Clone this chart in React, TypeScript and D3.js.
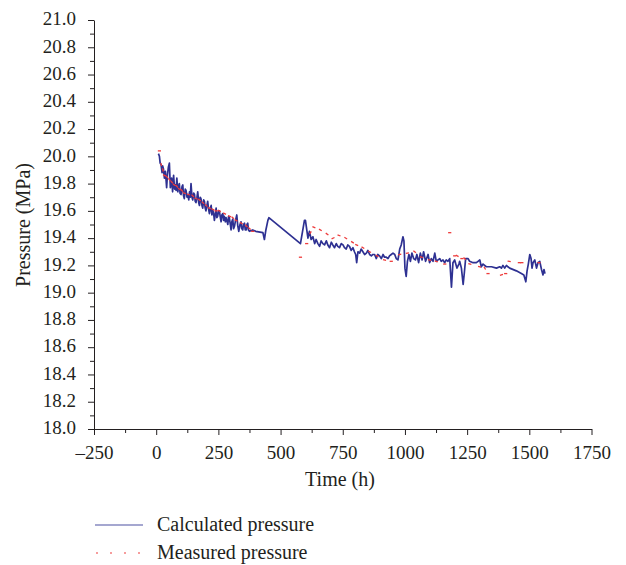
import React, { useEffect, useRef } from "react";
import * as d3 from "d3";

// pressure history
const timeDomain = [-250, 1750];
const pressureDomain = [18, 21];
const xTickValues = [-250, 0, 250, 500, 750, 1000, 1250, 1500, 1750];
const yTickValues = [18.0, 18.2, 18.4, 18.6, 18.8, 19.0, 19.2, 19.4, 19.6, 19.8, 20.0, 20.2, 20.4, 20.6, 20.8, 21.0];
const seriesNames = ["Calculated pressure", "Measured pressure"];

// [time h, pressure MPa]
const calculated: [number, number][] = [
  [9, 20.02], [13, 20.0], [16, 19.95], [19.5, 19.94], [23.6, 19.88], [26, 19.93], [29, 19.91], [33, 19.84], [37, 19.89],
  [40, 19.82], [42, 19.77], [45, 19.86], [49, 19.92], [53, 19.95], [57, 19.77], [60, 19.82], [62, 19.84], [66, 19.74],
  [70, 19.86], [74, 19.76], [77, 19.79], [80, 19.75], [83, 19.84], [87, 19.74], [90, 19.78], [93, 19.8], [96, 19.73],
  [100, 19.72], [104, 19.78], [107, 19.79], [110, 19.71], [113, 19.69], [117, 19.76], [120, 19.75], [124, 19.7],
  [127, 19.72], [131, 19.68], [134, 19.74], [137, 19.7], [140, 19.8], [144, 19.7], [147, 19.68], [151, 19.73],
  [154, 19.72], [157, 19.67], [160, 19.66], [164, 19.7], [167, 19.74], [171, 19.66], [174, 19.64], [177, 19.7],
  [180, 19.69], [184, 19.64], [187, 19.62], [191, 19.68], [194, 19.67], [197, 19.62], [200, 19.6], [204, 19.64],
  [207, 19.67], [211, 19.61], [214, 19.58], [218, 19.62], [221, 19.64], [224, 19.57], [227, 19.61], [231, 19.58],
  [234, 19.53], [238, 19.58], [241, 19.62], [244, 19.55], [247, 19.56], [251, 19.6], [254, 19.6], [258, 19.55],
  [261, 19.52], [264, 19.57], [268, 19.58], [271, 19.53], [274, 19.56], [278, 19.52], [281, 19.55], [284, 19.53],
  [288, 19.5], [291, 19.56], [294, 19.55], [298, 19.5], [301, 19.46], [304, 19.52], [308, 19.54], [311, 19.47],
  [315, 19.49], [319, 19.53], [324, 19.57], [328, 19.49], [332, 19.45], [337, 19.5], [341, 19.52], [344, 19.47],
  [348, 19.46], [351, 19.5], [355, 19.51], [358, 19.46], [362, 19.46], [365, 19.5], [368, 19.51], [371, 19.46],
  [375, 19.45], [388, 19.46], [400, 19.45], [429, 19.44], [435, 19.39], [441, 19.46], [449, 19.53], [453, 19.55],
  [580, 19.36], [596, 19.53], [600, 19.53], [610, 19.4], [616, 19.45], [623, 19.39], [630, 19.41], [637, 19.36],
  [643, 19.39], [650, 19.36], [657, 19.34], [663, 19.38], [670, 19.36], [677, 19.35], [684, 19.38], [690, 19.35],
  [697, 19.33], [704, 19.37], [710, 19.35], [717, 19.33], [724, 19.36], [730, 19.34], [737, 19.33], [744, 19.36],
  [751, 19.35], [757, 19.33], [764, 19.32], [770, 19.35], [777, 19.34], [784, 19.31], [791, 19.33], [797, 19.3],
  [802, 19.28], [806, 19.22], [811, 19.3], [818, 19.29], [824, 19.32], [831, 19.3], [838, 19.28], [845, 19.29],
  [851, 19.31], [858, 19.28], [865, 19.27], [871, 19.28], [878, 19.28], [885, 19.25], [891, 19.28], [898, 19.27],
  [905, 19.25], [912, 19.28], [918, 19.26], [925, 19.26], [932, 19.25], [938, 19.27], [945, 19.28], [952, 19.29],
  [959, 19.28], [965, 19.25], [972, 19.24], [979, 19.32], [985, 19.35], [992, 19.41], [996, 19.38], [1000, 19.18],
  [1005, 19.12], [1010, 19.23], [1016, 19.28], [1022, 19.23], [1028, 19.29], [1035, 19.25], [1042, 19.24], [1048, 19.28],
  [1055, 19.22], [1062, 19.29], [1069, 19.24], [1075, 19.3], [1083, 19.23], [1093, 19.28], [1099, 19.22], [1106, 19.25],
  [1113, 19.23], [1120, 19.29], [1126, 19.23], [1133, 19.24], [1140, 19.25], [1146, 19.23], [1153, 19.24], [1160, 19.22],
  [1166, 19.24], [1173, 19.23], [1180, 19.25], [1187, 19.04], [1193, 19.22], [1200, 19.24], [1209, 19.18], [1217, 19.21],
  [1220, 19.23], [1227, 19.18], [1234, 19.06], [1239, 19.15], [1244, 19.25], [1254, 19.25], [1260, 19.23], [1274, 19.22],
  [1287, 19.22], [1294, 19.23], [1301, 19.24], [1307, 19.19], [1314, 19.21], [1327, 19.19], [1348, 19.19], [1368, 19.18],
  [1381, 19.19], [1388, 19.18], [1394, 19.2], [1401, 19.18], [1408, 19.2], [1414, 19.19], [1421, 19.18], [1448, 19.16],
  [1468, 19.14], [1478, 19.13], [1486, 19.08], [1491, 19.16], [1496, 19.21], [1502, 19.28], [1507, 19.25], [1511, 19.18],
  [1515, 19.22], [1522, 19.24], [1529, 19.18], [1535, 19.22], [1542, 19.23], [1549, 19.17], [1555, 19.13], [1559, 19.17],
  [1563, 19.14],
];

const measured: [number, number][] = [
  [13, 20.04], [20, 19.94], [27, 19.9], [33, 19.86], [43, 19.85], [53, 19.83], [63, 19.81], [73, 19.79],
  [83, 19.78], [93, 19.76], [103, 19.75], [113, 19.73], [130, 19.72], [147, 19.71], [160, 19.69], [174, 19.68],
  [188, 19.66], [201, 19.64], [214, 19.62], [228, 19.61], [241, 19.6], [254, 19.6], [275, 19.58], [295, 19.56],
  [308, 19.55], [321, 19.53], [342, 19.51], [362, 19.49], [375, 19.47], [388, 19.45],
  [580, 19.26], [605, 19.36], [620, 19.44], [634, 19.48], [660, 19.46], [687, 19.43], [711, 19.4], [735, 19.42],
  [762, 19.4], [789, 19.37], [806, 19.35], [831, 19.33], [858, 19.3], [888, 19.27], [918, 19.24], [945, 19.23],
  [979, 19.28], [1010, 19.29], [1039, 19.3], [1066, 19.26], [1099, 19.24], [1126, 19.23], [1160, 19.21], [1180, 19.44],
  [1200, 19.27], [1210, 19.27], [1229, 19.25], [1240, 19.25], [1261, 19.21], [1300, 19.19], [1321, 19.18], [1334, 19.14],
  [1388, 19.13], [1405, 19.14], [1419, 19.23], [1460, 19.22], [1470, 19.22], [1539, 19.22],
];

const width = 626;
const height = 565;
const font = "'Liberation Serif', 'Times New Roman', serif";
const ink = "#231f20";
const blue = "#2e3192";
const red = "#ee3b3b";

export default function App() {
  const ref = useRef<SVGSVGElement>(null);

  useEffect(() => {
    const svg = d3.select(ref.current);
    svg.selectAll("*").remove();

    const x = d3.scaleLinear().domain(timeDomain).range([94, 591.5]);
    const y = d3.scaleLinear().domain(pressureDomain).range([429, 20]);

    // minor ticks
    const xMinor = d3.range(-125, 1750, 250);
    const yMinor = d3.range(18.1, 21, 0.2);

    svg.append("g").attr("transform", "translate(0,429)")
      .call(d3.axisBottom(x).tickValues(xMinor).tickSize(4).tickSizeOuter(0).tickFormat(() => ""))
      .call(g => g.select(".domain").remove());
    svg.append("g").attr("transform", "translate(94,0)")
      .call(d3.axisLeft(y).tickValues(yMinor).tickSize(4).tickSizeOuter(0).tickFormat(() => ""))
      .call(g => g.select(".domain").remove());

    svg.append("g").attr("transform", "translate(0,429)")
      .call(d3.axisBottom(x).tickValues(xTickValues).tickSize(6).tickSizeOuter(0).tickPadding(11)
        .tickFormat(d => (+d < 0 ? "\u2013" + Math.abs(+d) : String(d))));
    const yAxis = svg.append("g").attr("transform", "translate(94,0)")
      .call(d3.axisLeft(y).tickValues(yTickValues).tickSize(6).tickSizeOuter(0).tickPadding(12)
        .tickFormat(d3.format(".1f")));
    yAxis.selectAll("text").attr("dy", "0.25em");

    svg.selectAll(".tick line, .domain").attr("stroke", ink);
    svg.selectAll(".tick text").attr("fill", ink).style("font-family", font).style("font-size", "19px");

    // calculated line
    const line = d3.line<[number, number]>().x(d => x(d[0])).y(d => y(d[1]));
    svg.append("path").datum(calculated)
      .attr("d", line).attr("fill", "none").attr("stroke", blue)
      .attr("stroke-width", 1.7).attr("stroke-linejoin", "round");

    // measured: short dashes
    const pts = measured.map(d => [x(d[0]), y(d[1])]);
    svg.append("g").selectAll("line").data(pts).join("line")
      .each(function (p, i) {
        const j = i < pts.length - 1 ? i + 1 : i - 1;
        const dx = pts[j][0] - p[0];
        const dy = pts[j][1] - p[1];
        let a = 0;
        if (Math.abs(dx) < 12 && Math.abs(dy) < 6) a = Math.atan2(dy, dx);
        const c = Math.cos(a) * 1.6, s = Math.sin(a) * 1.6;
        d3.select(this).attr("x1", p[0] - c).attr("y1", p[1] - s).attr("x2", p[0] + c).attr("y2", p[1] + s);
      })
      .attr("stroke", red).attr("stroke-width", 1.3);

    // axis titles
    svg.append("text").attr("x", 340).attr("y", 486).attr("text-anchor", "middle")
      .style("font-family", font).style("font-size", "20px").attr("fill", ink).text("Time (h)");
    svg.append("text").attr("transform", "translate(30,225) rotate(-90)").attr("text-anchor", "middle")
      .style("font-family", font).style("font-size", "20px").attr("fill", ink).text("Pressure (MPa)");

    // legend
    svg.append("line").attr("x1", 95).attr("x2", 143).attr("y1", 525).attr("y2", 525)
      .attr("stroke", blue).attr("stroke-width", 1.1).attr("stroke-opacity", 0.85);
    svg.append("line").attr("x1", 96).attr("x2", 142).attr("y1", 553).attr("y2", 553)
      .attr("stroke", red).attr("stroke-width", 1.1).attr("stroke-dasharray", "2,12");
    svg.selectAll(".legend-text").data(seriesNames).join("text")
      .attr("class", "legend-text").attr("x", 157).attr("y", (d, i) => 531 + i * 28)
      .style("font-family", font).style("font-size", "20px").attr("fill", ink).text(d => d);
  }, []);

  return (
    <svg ref={ref} width={width} height={height}
      style={{ position: "absolute", left: 0, top: 0, background: "#fff" }} />
  );
}
